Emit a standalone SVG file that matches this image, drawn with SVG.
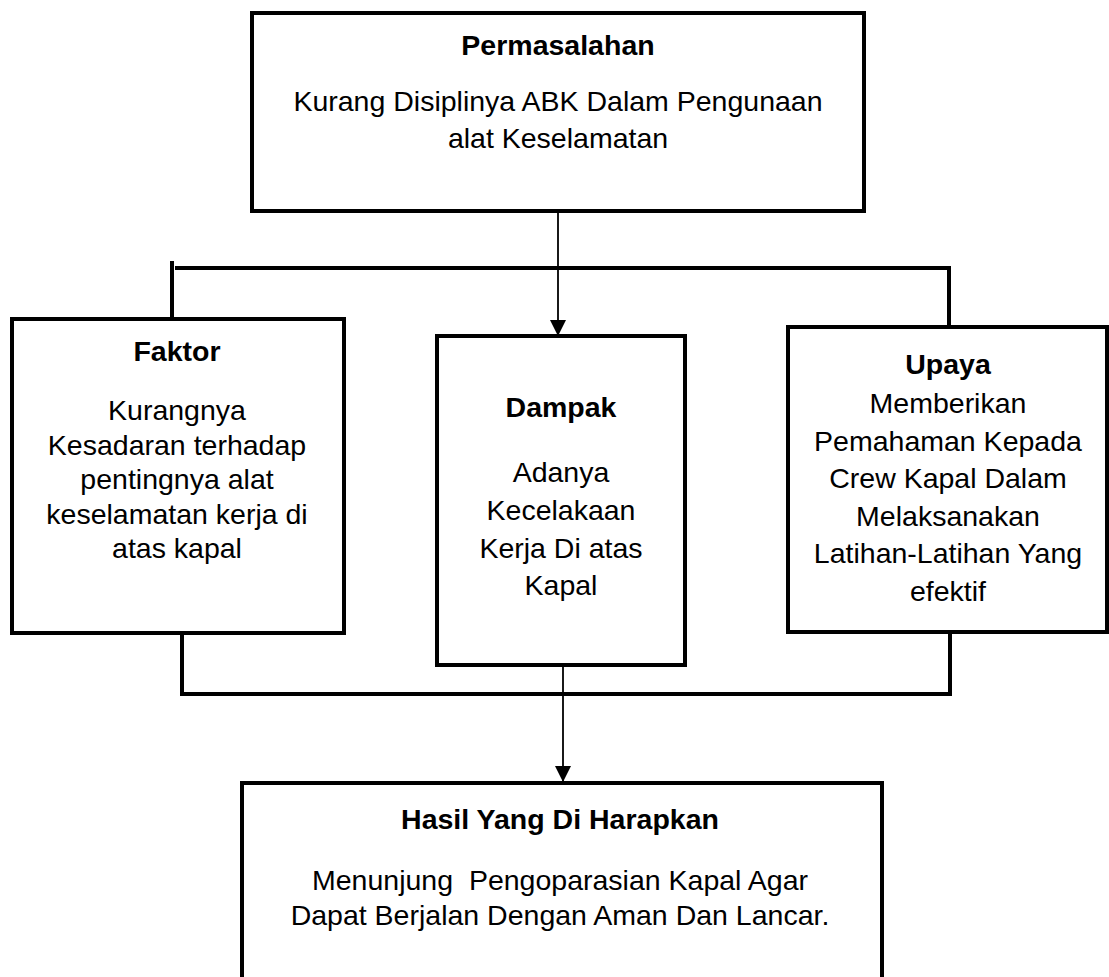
<svg xmlns="http://www.w3.org/2000/svg" width="1109" height="977" viewBox="0 0 1109 977">
  <style>
    .box { fill: #ffffff; stroke: #000000; stroke-width: 4; }
    .thick { fill: none; stroke: #000000; stroke-width: 4; }
    .thin { fill: none; stroke: #000000; stroke-width: 1.8; }
    text { font-family: "Liberation Sans", Arial, sans-serif; font-size: 28.5px; fill: #000000; text-anchor: middle; }
    .title { font-weight: bold; }
  </style>
  <defs>
    <marker id="arrow" markerUnits="userSpaceOnUse" markerWidth="16" markerHeight="16" viewBox="0 0 16 16" refX="16" refY="8" orient="auto">
      <path d="M0,0 L16,8 L0,16 Z" fill="#000000"/>
    </marker>
  </defs>
  <rect width="1109" height="977" fill="#ffffff"/>

  <g id="connectors">
    <line class="thin" x1="558" y1="211" x2="558" y2="336" marker-end="url(#arrow)"/>
    <line class="thick" x1="175" y1="268" x2="951" y2="268"/>
    <line class="thick" x1="172" y1="261" x2="172" y2="319"/>
    <line class="thick" x1="949" y1="266" x2="949" y2="327"/>
    <polyline class="thick" points="182,633 182,694 950,694 950,632"/>
    <line class="thin" x1="563" y1="656" x2="563" y2="782" marker-end="url(#arrow)"/>
  </g>

  <g id="permasalahan">
    <rect class="box" x="252" y="13" width="612" height="198"/>
    <text class="title" x="558" y="55">Permasalahan</text>
    <text x="558" y="111">Kurang Disiplinya ABK Dalam Pengunaan</text>
    <text x="558" y="148">alat Keselamatan</text>
  </g>

  <g id="faktor">
    <rect class="box" x="12" y="319" width="332" height="314"/>
    <text class="title" x="177" y="361">Faktor</text>
    <text x="177" y="420">Kurangnya</text>
    <text x="177" y="454.5">Kesadaran terhadap</text>
    <text x="177" y="489">pentingnya alat</text>
    <text x="177" y="523.5">keselamatan kerja di</text>
    <text x="177" y="558">atas kapal</text>
  </g>

  <g id="dampak">
    <rect class="box" x="437" y="336" width="248" height="329"/>
    <text class="title" x="561" y="417">Dampak</text>
    <text x="561" y="482">Adanya</text>
    <text x="561" y="519.5">Kecelakaan</text>
    <text x="561" y="557.5">Kerja Di atas</text>
    <text x="561" y="595">Kapal</text>
  </g>

  <g id="upaya">
    <rect class="box" x="788" y="327" width="319" height="305"/>
    <text class="title" x="948" y="374">Upaya</text>
    <text x="948" y="413">Memberikan</text>
    <text x="948" y="450.5">Pemahaman Kepada</text>
    <text x="948" y="488">Crew Kapal Dalam</text>
    <text x="948" y="525.5">Melaksanakan</text>
    <text x="948" y="563">Latihan-Latihan Yang</text>
    <text x="948" y="600.5">efektif</text>
  </g>

  <g id="hasil">
    <rect class="box" x="242" y="783" width="640" height="230"/>
    <text class="title" x="560" y="829">Hasil Yang Di Harapkan</text>
    <text x="560" y="890" xml:space="preserve">Menunjung  Pengoparasian Kapal Agar</text>
    <text x="560" y="925">Dapat Berjalan Dengan Aman Dan Lancar.</text>
  </g>
</svg>
